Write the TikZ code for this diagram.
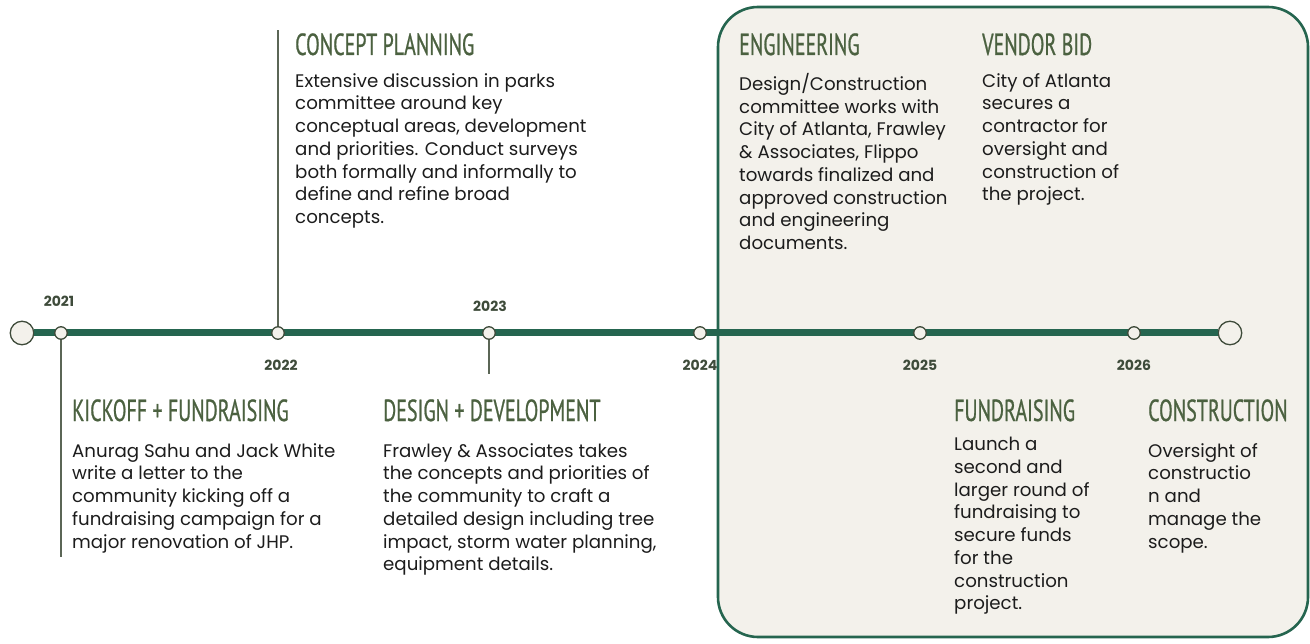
\documentclass[tikz,border=0pt]{standalone}
\usepackage{fontspec}
\setmainfont{Poppins}
\newfontfamily\headfont[FakeStretch=0.655,FakeBold=0.7]{PT Sans}
\definecolor{linegreen}{HTML}{25654F}
\definecolor{headgreen}{HTML}{4B6140}
\definecolor{yeargray}{HTML}{3E4B3A}
\definecolor{stemgray}{HTML}{5B6656}
\definecolor{panel}{HTML}{F3F1EB}
\definecolor{bodyblack}{HTML}{1C1C1C}
\tikzset{
  heading/.style={anchor=base west, inner sep=0pt, text=headgreen,
    font=\headfont\fontsize{30.5}{32}\selectfont},
  bodytext/.style={anchor=north west, inner sep=0pt, align=left, text=bodyblack,
    font=\fontsize{18.2}{22.75}\selectfont},
  yearlabel/.style={inner sep=0pt, text=yeargray, font=\bfseries\fontsize{14}{16}\selectfont},
  dot/.style={circle, draw=yeargray, fill=panel, line width=1.3pt, minimum size=12.5pt, inner sep=0pt},
  bigdot/.style={circle, draw=yeargray, fill=panel, line width=1.3pt, minimum size=23.5pt, inner sep=0pt},
  stem/.style={draw=stemgray, line width=1.5pt},
  panelbox/.style={draw=linegreen, line width=2.6pt, rounded corners=40pt},
}
\begin{document}
\begin{tikzpicture}[x=1pt,y=-1pt]
\useasboundingbox (0,0) rectangle (1310,644);
% panel
\fill[panel, rounded corners=40pt] (718,7) rectangle (1308,637);
% timeline
\node[bigdot] (start) at (22,333) {};
\node[bigdot] (finish) at (1230,333) {};
\draw[linegreen, line width=7pt] (start.east) -- (finish.west);
\draw[panelbox] (718,7) rectangle (1308,637);
% stems
\coordinate (s1) at (61,557);
\coordinate (s2) at (278,30);
\coordinate (s3) at (489,374);
\node[dot] (d1) at (61,333) {};
\node[dot] (d2) at (278,333) {};
\node[dot] (d3) at (489,333) {};
\node[dot] (d4) at (700,333) {};
\node[dot] (d5) at (920,333) {};
\node[dot] (d6) at (1134,333) {};
\draw[stem] (d1.south) -- (s1);
\draw[stem] (d2.north) -- (s2);
\draw[stem] (d3.south) -- (s3);
% years
\node[yearlabel] (y1) at (59,301) {2021};
\node[yearlabel] (y2) at (281,365) {2022};
\node[yearlabel] (y3) at (490,306) {2023};
\node[yearlabel] (y4) at (700,365) {2024};
\node[yearlabel] (y5) at (920,365) {2025};
\node[yearlabel] (y6) at (1134,365) {2026};
% headings
\node[heading] (h2) at (295,55) {CONCEPT PLANNING};
\node[heading] (h1) at (72,421) {KICKOFF + FUNDRAISING};
\node[heading] (h3) at (383,421) {DESIGN + DEVELOPMENT};
\node[heading] (h4) at (739,55) {ENGINEERING};
\node[heading] (h5) at (982,55) {VENDOR BID};
\node[heading] (h6) at (954,421) {FUNDRAISING};
\node[heading] (h7) at (1148,421) {CONSTRUCTION};
% bodies
\node[bodytext] (b2) at (295,73) {Extensive discussion in parks\\committee around key\\conceptual areas, development\\and priorities. Conduct surveys\\both formally and informally to\\define and refine broad\\concepts.};
\node[bodytext] (b1) at (72,443) {Anurag Sahu and Jack White\\write a letter to the\\community kicking off a\\fundraising campaign for a\\major renovation of JHP.};
\node[bodytext] (b3) at (383,443) {Frawley \& Associates takes\\the concepts and priorities of\\the community to craft a\\detailed design including tree\\impact, storm water planning,\\equipment details.};
\node[bodytext] (b4) at (739,73) {Design/Construction\\committee works with\\City of Atlanta, Frawley\\\& Associates, Flippo\\towards finalized and\\approved construction\\and engineering\\documents.};
\node[bodytext] (b5) at (982,73) {City of Atlanta\\secures a\\contractor for\\oversight and\\construction of\\the project.};
\node[bodytext] (b6) at (954,437) {Launch a\\second and\\larger round of\\fundraising to\\secure funds\\for the\\construction\\project.};
\node[bodytext] (b7) at (1148,443) {Oversight of\\constructio\\n and\\manage the\\scope.};
\end{tikzpicture}
\end{document}
